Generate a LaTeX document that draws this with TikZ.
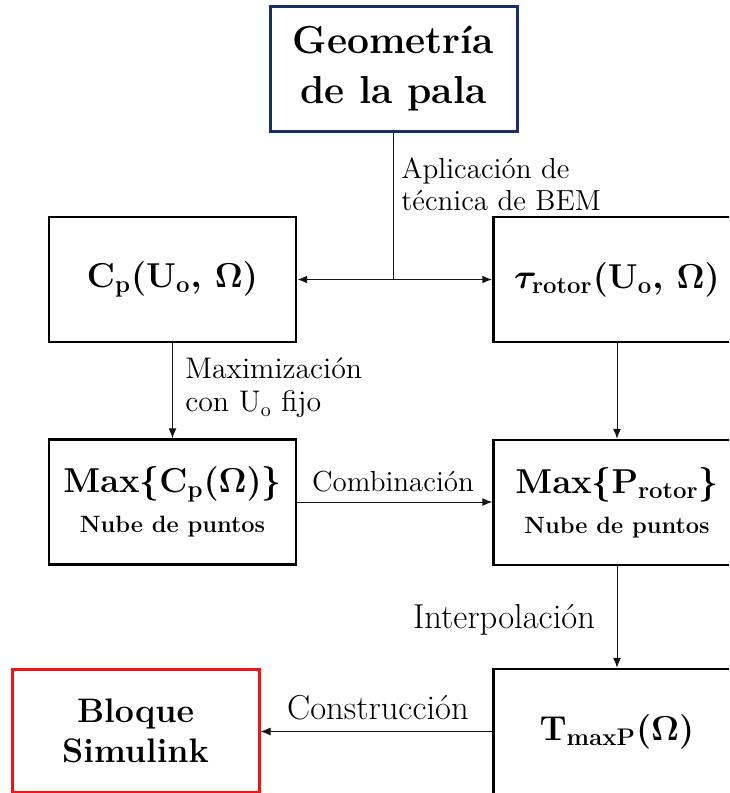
\documentclass[tikz,border=0pt]{standalone}
\usepackage{amsmath}
\usepackage{tikz}
\usetikzlibrary{arrows.meta, positioning, calc}
\definecolor{mynavy}{RGB}{25,45,105}
\definecolor{myred}{RGB}{245,20,20}
\definecolor{mydark}{RGB}{20,20,20}
\tikzset{
  box/.style={rectangle, draw=black, line width=1.2pt,
    minimum width=123.5pt, minimum height=62.5pt, align=center,
    inner sep=0pt, font=\bfseries\boldmath\fontsize{18.5}{22}\selectfont},
  geobox/.style={box, draw=mynavy, line width=1.5pt,
    font=\bfseries\fontsize{19.5}{25}\selectfont},
  redbox/.style={box, draw=myred, line width=1.5pt, minimum height=61.5pt,
    font=\bfseries\fontsize{17}{20}\selectfont},
  arrow/.style={-{Latex[length=5pt,width=4pt]}, line width=0.5pt, color=mydark},
  dblarrow/.style={{Latex[length=5pt,width=4pt]}-{Latex[length=5pt,width=4pt]},
    line width=0.9pt, color=mydark},
  line/.style={line width=0.5pt, color=mydark},
  lbl/.style={font=\fontsize{14.5}{16}\selectfont, align=left, inner sep=0pt},
  biglbl/.style={font=\fontsize{17.3}{19}\selectfont, inner sep=0pt}
}

\begin{document}
\begin{tikzpicture}[x=0.5pt, y=-0.5pt]
  \useasboundingbox (0,0) rectangle (729,793);
  \clip (0,0) rectangle (729,793);
  % Blade geometry
  \node[geobox] (geo) at (393.5,69) {Geometría\\de la pala};
  % First row
  \node[box] (cp) at (172.5,279.5) {$\mathrm{C_p(U_o},\,\Omega)$};
  \node[box] (tau) at (617,279.5) {$\tau_{\mathrm{rotor}}\mathrm{(U_o},\,\Omega)$};
  \coordinate (junc) at (geo.south |- cp.east);
  \draw[line] (geo) -- (junc);
  \draw[dblarrow] (cp) -- (tau);
  \node[lbl, anchor=west] (appl) at (401,184) {Aplicación de\\técnica de BEM};
  % Second row
  \node[box] (maxcp) at (172.5,502) {{\fontsize{16.5}{20}\selectfont$\mathrm{Max\{C_p(\Omega)\}}$}\\[-2pt]{\fontsize{11.8}{14}\selectfont Nube de puntos}};
  \node[box] (maxp) at (617,502.5) {{\fontsize{16.5}{20}\selectfont$\mathrm{Max\{P_{rotor}\}}$}\\[-2pt]{\fontsize{11.8}{14}\selectfont Nube de puntos}};
  \draw[arrow] (cp) -- (maxcp);
  \draw[arrow] (tau) -- (maxp);
  \draw[arrow] (maxcp) -- (maxcp -| maxp.west);
  \node[lbl, anchor=west, font=\fontsize{14.9}{16.5}\selectfont] (maxlbl) at (185,388) {Maximización\\con U$_{\mathrm{o}}$ fijo};
  \node[lbl] (comb) at (393,482) {Combinación};
  % Third row
  \node[box] (tmax) at (617,731.5) {$\mathrm{T_{maxP}(\Omega)}$};
  \node[redbox] (bloque) at (135.5,731) {Bloque\\Simulink};
  \draw[arrow] (maxp) -- (tmax);
  \draw[arrow] (tmax) -- (tmax -| bloque.east);
  \node[biglbl] (interp) at (504,620) {Interpolación};
  \node[biglbl] (constr) at (378,708) {Construcción};
\end{tikzpicture}
\end{document}
